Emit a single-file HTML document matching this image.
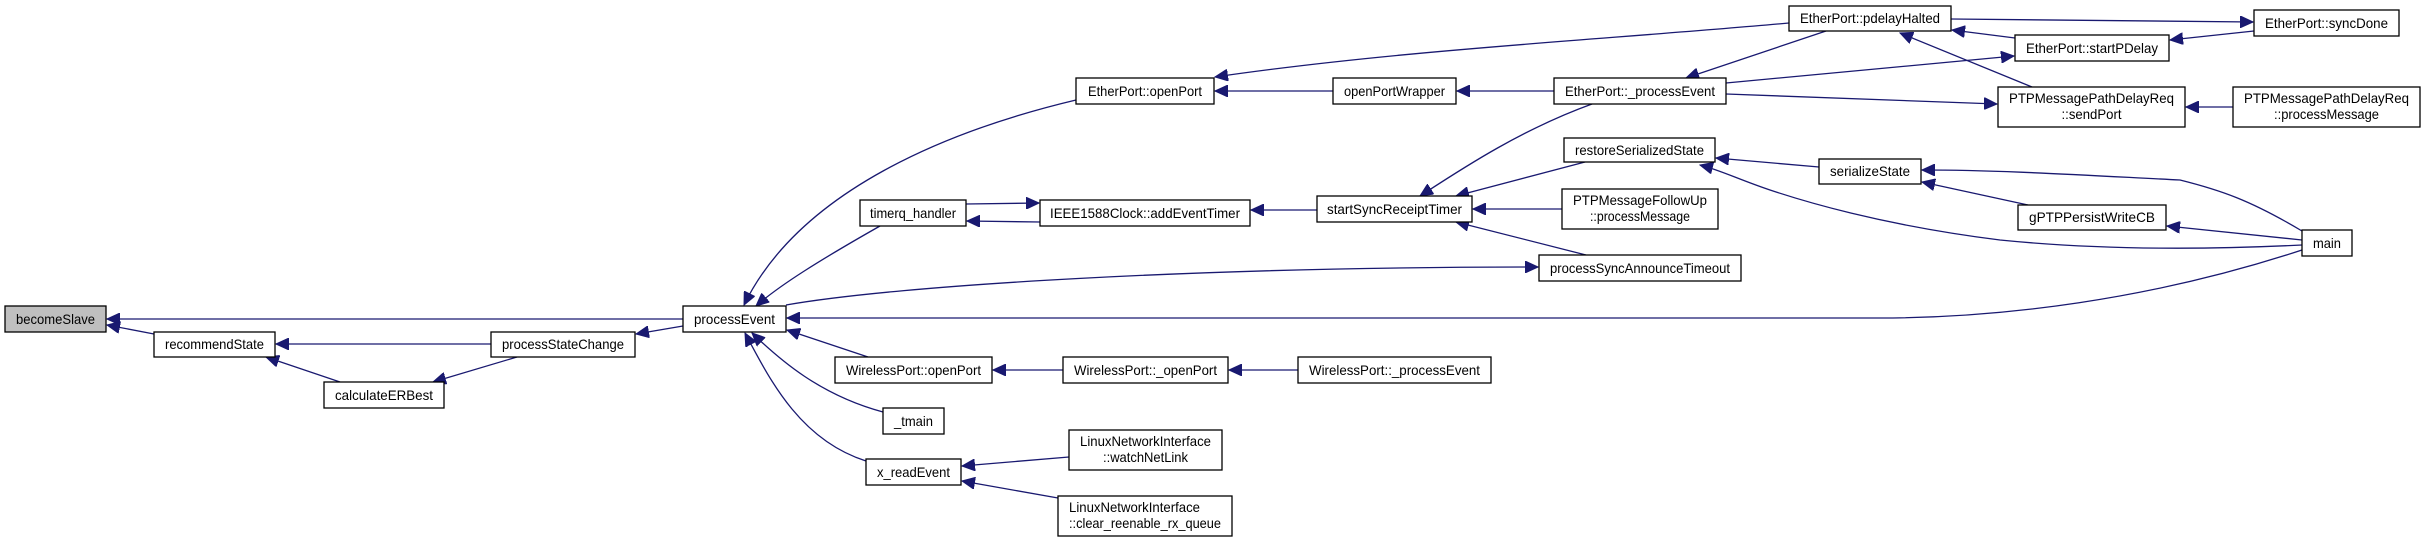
<!DOCTYPE html>
<html><head><meta charset="utf-8"><style>
html,body{margin:0;padding:0;background:#fff;}
svg{display:block;}
text{font-family:"Liberation Sans",sans-serif;font-size:14px;fill:#000;}
rect{fill:#fff;stroke:#000;stroke-width:1.3;}
path{fill:none;stroke:#191970;stroke-width:1.3;}
</style></head><body>
<svg width="2425" height="539" viewBox="0 0 2425 539" xmlns="http://www.w3.org/2000/svg">
<defs>
<marker id="a" markerUnits="userSpaceOnUse" markerWidth="14" markerHeight="12" refX="13" refY="6" orient="auto">
<path d="M0,0 L13,6 L0,12 Z" style="fill:#191970;stroke:#191970;stroke-width:1"/>
</marker>
</defs>
<g marker-end="url(#a)">
<path d="M683,319 L107,319"/>
<path d="M154,334 L107,325"/>
<path d="M491,344 L276,344"/>
<path d="M340,382 L266,357"/>
<path d="M517,357 L433,382"/>
<path d="M683,326 L636,334"/>
<path d="M1076,100 C950,130 800,190 744,305"/>
<path d="M880,226 C820,260 780,285 756,306"/>
<path d="M966,204 L1039,203"/>
<path d="M1040,222 L967,221"/>
<path d="M1317,210 L1251,210"/>
<path d="M786,305 C900,285 1200,267 1538,267"/>
<path d="M2302,250 C2150,300 2000,318 1880,318 L787,318"/>
<path d="M868,357 L787,330"/>
<path d="M883,412 C820,395 780,360 752,333"/>
<path d="M866,461 C800,440 770,380 745,333"/>
<path d="M1063,370 L993,370"/>
<path d="M1298,370 L1229,370"/>
<path d="M1069,457 L962,466"/>
<path d="M1058,498 L962,481"/>
<path d="M1333,91 L1215,91"/>
<path d="M1554,91 L1457,91"/>
<path d="M1789,23 C1600,40 1400,50 1215,77"/>
<path d="M1592,104 C1520,130 1460,170 1420,196"/>
<path d="M1585,162 L1456,196"/>
<path d="M1562,209 L1473,209"/>
<path d="M1586,255 L1456,222"/>
<path d="M1826,31 L1686,78"/>
<path d="M1726,83 L2014,56"/>
<path d="M1726,94 L1997,104"/>
<path d="M1951,19 L2253,22"/>
<path d="M2015,38 L1952,30"/>
<path d="M2254,31 L2170,40"/>
<path d="M2032,87 L1900,33"/>
<path d="M2233,107 L2186,107"/>
<path d="M1819,167 L1716,158"/>
<path d="M2302,245 C2200,250 2100,250 2000,240 C1880,225 1800,200 1770,190 C1740,180 1720,170 1700,165"/>
<path d="M2028,205 L1922,182"/>
<path d="M2302,231 C2250,200 2220,190 2180,180 C2080,175 2000,170 1922,170"/>
<path d="M2302,240 L2167,226"/>
</g>
<g>
<rect x="5" y="306" width="101" height="26" style="fill:#bfbfbf"/><text x="55.5" y="324" text-anchor="middle" textLength="79" lengthAdjust="spacingAndGlyphs">becomeSlave</text>
<rect x="154" y="332" width="121" height="25"/><text x="214.5" y="349" text-anchor="middle" textLength="99" lengthAdjust="spacingAndGlyphs">recommendState</text>
<rect x="324" y="382" width="120" height="26"/><text x="384" y="400" text-anchor="middle" textLength="98" lengthAdjust="spacingAndGlyphs">calculateERBest</text>
<rect x="491" y="332" width="144" height="25"/><text x="563" y="349" text-anchor="middle" textLength="122" lengthAdjust="spacingAndGlyphs">processStateChange</text>
<rect x="683" y="306" width="103" height="26"/><text x="734.5" y="324" text-anchor="middle" textLength="81" lengthAdjust="spacingAndGlyphs">processEvent</text>
<rect x="1076" y="78" width="138" height="26"/><text x="1145" y="96" text-anchor="middle" textLength="114" lengthAdjust="spacingAndGlyphs">EtherPort::openPort</text>
<rect x="1333" y="78" width="123" height="26"/><text x="1394.5" y="96" text-anchor="middle" textLength="101" lengthAdjust="spacingAndGlyphs">openPortWrapper</text>
<rect x="1554" y="78" width="172" height="26"/><text x="1640" y="96" text-anchor="middle" textLength="150" lengthAdjust="spacingAndGlyphs">EtherPort::_processEvent</text>
<rect x="1564" y="138" width="151" height="24"/><text x="1639.5" y="155" text-anchor="middle" textLength="129" lengthAdjust="spacingAndGlyphs">restoreSerializedState</text>
<rect x="1562" y="189" width="156" height="40"/><text x="1640" y="205" text-anchor="middle" textLength="134" lengthAdjust="spacingAndGlyphs">PTPMessageFollowUp</text><text x="1640" y="221" text-anchor="middle" textLength="100" lengthAdjust="spacingAndGlyphs">::processMessage</text>
<rect x="1539" y="255" width="202" height="26"/><text x="1640" y="273" text-anchor="middle" textLength="180" lengthAdjust="spacingAndGlyphs">processSyncAnnounceTimeout</text>
<rect x="860" y="200" width="106" height="26"/><text x="913" y="218" text-anchor="middle" textLength="86" lengthAdjust="spacingAndGlyphs">timerq_handler</text>
<rect x="1040" y="200" width="210" height="26"/><text x="1145" y="218" text-anchor="middle" textLength="190" lengthAdjust="spacingAndGlyphs">IEEE1588Clock::addEventTimer</text>
<rect x="1317" y="196" width="155" height="26"/><text x="1394.5" y="214" text-anchor="middle" textLength="135" lengthAdjust="spacingAndGlyphs">startSyncReceiptTimer</text>
<rect x="835" y="357" width="157" height="26"/><text x="913.5" y="375" text-anchor="middle" textLength="135" lengthAdjust="spacingAndGlyphs">WirelessPort::openPort</text>
<rect x="1063" y="357" width="165" height="26"/><text x="1145.5" y="375" text-anchor="middle" textLength="143" lengthAdjust="spacingAndGlyphs">WirelessPort::_openPort</text>
<rect x="1298" y="357" width="193" height="26"/><text x="1394.5" y="375" text-anchor="middle" textLength="171" lengthAdjust="spacingAndGlyphs">WirelessPort::_processEvent</text>
<rect x="883" y="408" width="61" height="26"/><text x="913.5" y="426" text-anchor="middle" textLength="39" lengthAdjust="spacingAndGlyphs">_tmain</text>
<rect x="1069" y="430" width="153" height="40"/><text x="1145.5" y="446" text-anchor="middle" textLength="131" lengthAdjust="spacingAndGlyphs">LinuxNetworkInterface</text><text x="1145.5" y="462" text-anchor="middle" textLength="85" lengthAdjust="spacingAndGlyphs">::watchNetLink</text>
<rect x="866" y="459" width="95" height="26"/><text x="913.5" y="477" text-anchor="middle" textLength="73" lengthAdjust="spacingAndGlyphs">x_readEvent</text>
<rect x="1058" y="496" width="174" height="40"/><text x="1069" y="512" textLength="131" lengthAdjust="spacingAndGlyphs">LinuxNetworkInterface</text><text x="1069" y="528" textLength="152" lengthAdjust="spacingAndGlyphs">::clear_reenable_rx_queue</text>
<rect x="1789" y="6" width="162" height="25"/><text x="1870" y="23" text-anchor="middle" textLength="140" lengthAdjust="spacingAndGlyphs">EtherPort::pdelayHalted</text>
<rect x="2254" y="10" width="145" height="26"/><text x="2326.5" y="28" text-anchor="middle" textLength="123" lengthAdjust="spacingAndGlyphs">EtherPort::syncDone</text>
<rect x="2015" y="35" width="154" height="26"/><text x="2092" y="53" text-anchor="middle" textLength="132" lengthAdjust="spacingAndGlyphs">EtherPort::startPDelay</text>
<rect x="1998" y="87" width="187" height="40"/><text x="2091.5" y="103" text-anchor="middle" textLength="165" lengthAdjust="spacingAndGlyphs">PTPMessagePathDelayReq</text><text x="2091.5" y="119" text-anchor="middle" textLength="60" lengthAdjust="spacingAndGlyphs">::sendPort</text>
<rect x="2233" y="87" width="187" height="40"/><text x="2326.5" y="103" text-anchor="middle" textLength="165" lengthAdjust="spacingAndGlyphs">PTPMessagePathDelayReq</text><text x="2326.5" y="119" text-anchor="middle" textLength="105" lengthAdjust="spacingAndGlyphs">::processMessage</text>
<rect x="1819" y="159" width="102" height="25"/><text x="1870" y="176" text-anchor="middle" textLength="80" lengthAdjust="spacingAndGlyphs">serializeState</text>
<rect x="2018" y="205" width="148" height="25"/><text x="2092" y="222" text-anchor="middle" textLength="126" lengthAdjust="spacingAndGlyphs">gPTPPersistWriteCB</text>
<rect x="2302" y="230" width="50" height="26"/><text x="2327" y="248" text-anchor="middle" textLength="28" lengthAdjust="spacingAndGlyphs">main</text>
</g>
</svg>
</body></html>
